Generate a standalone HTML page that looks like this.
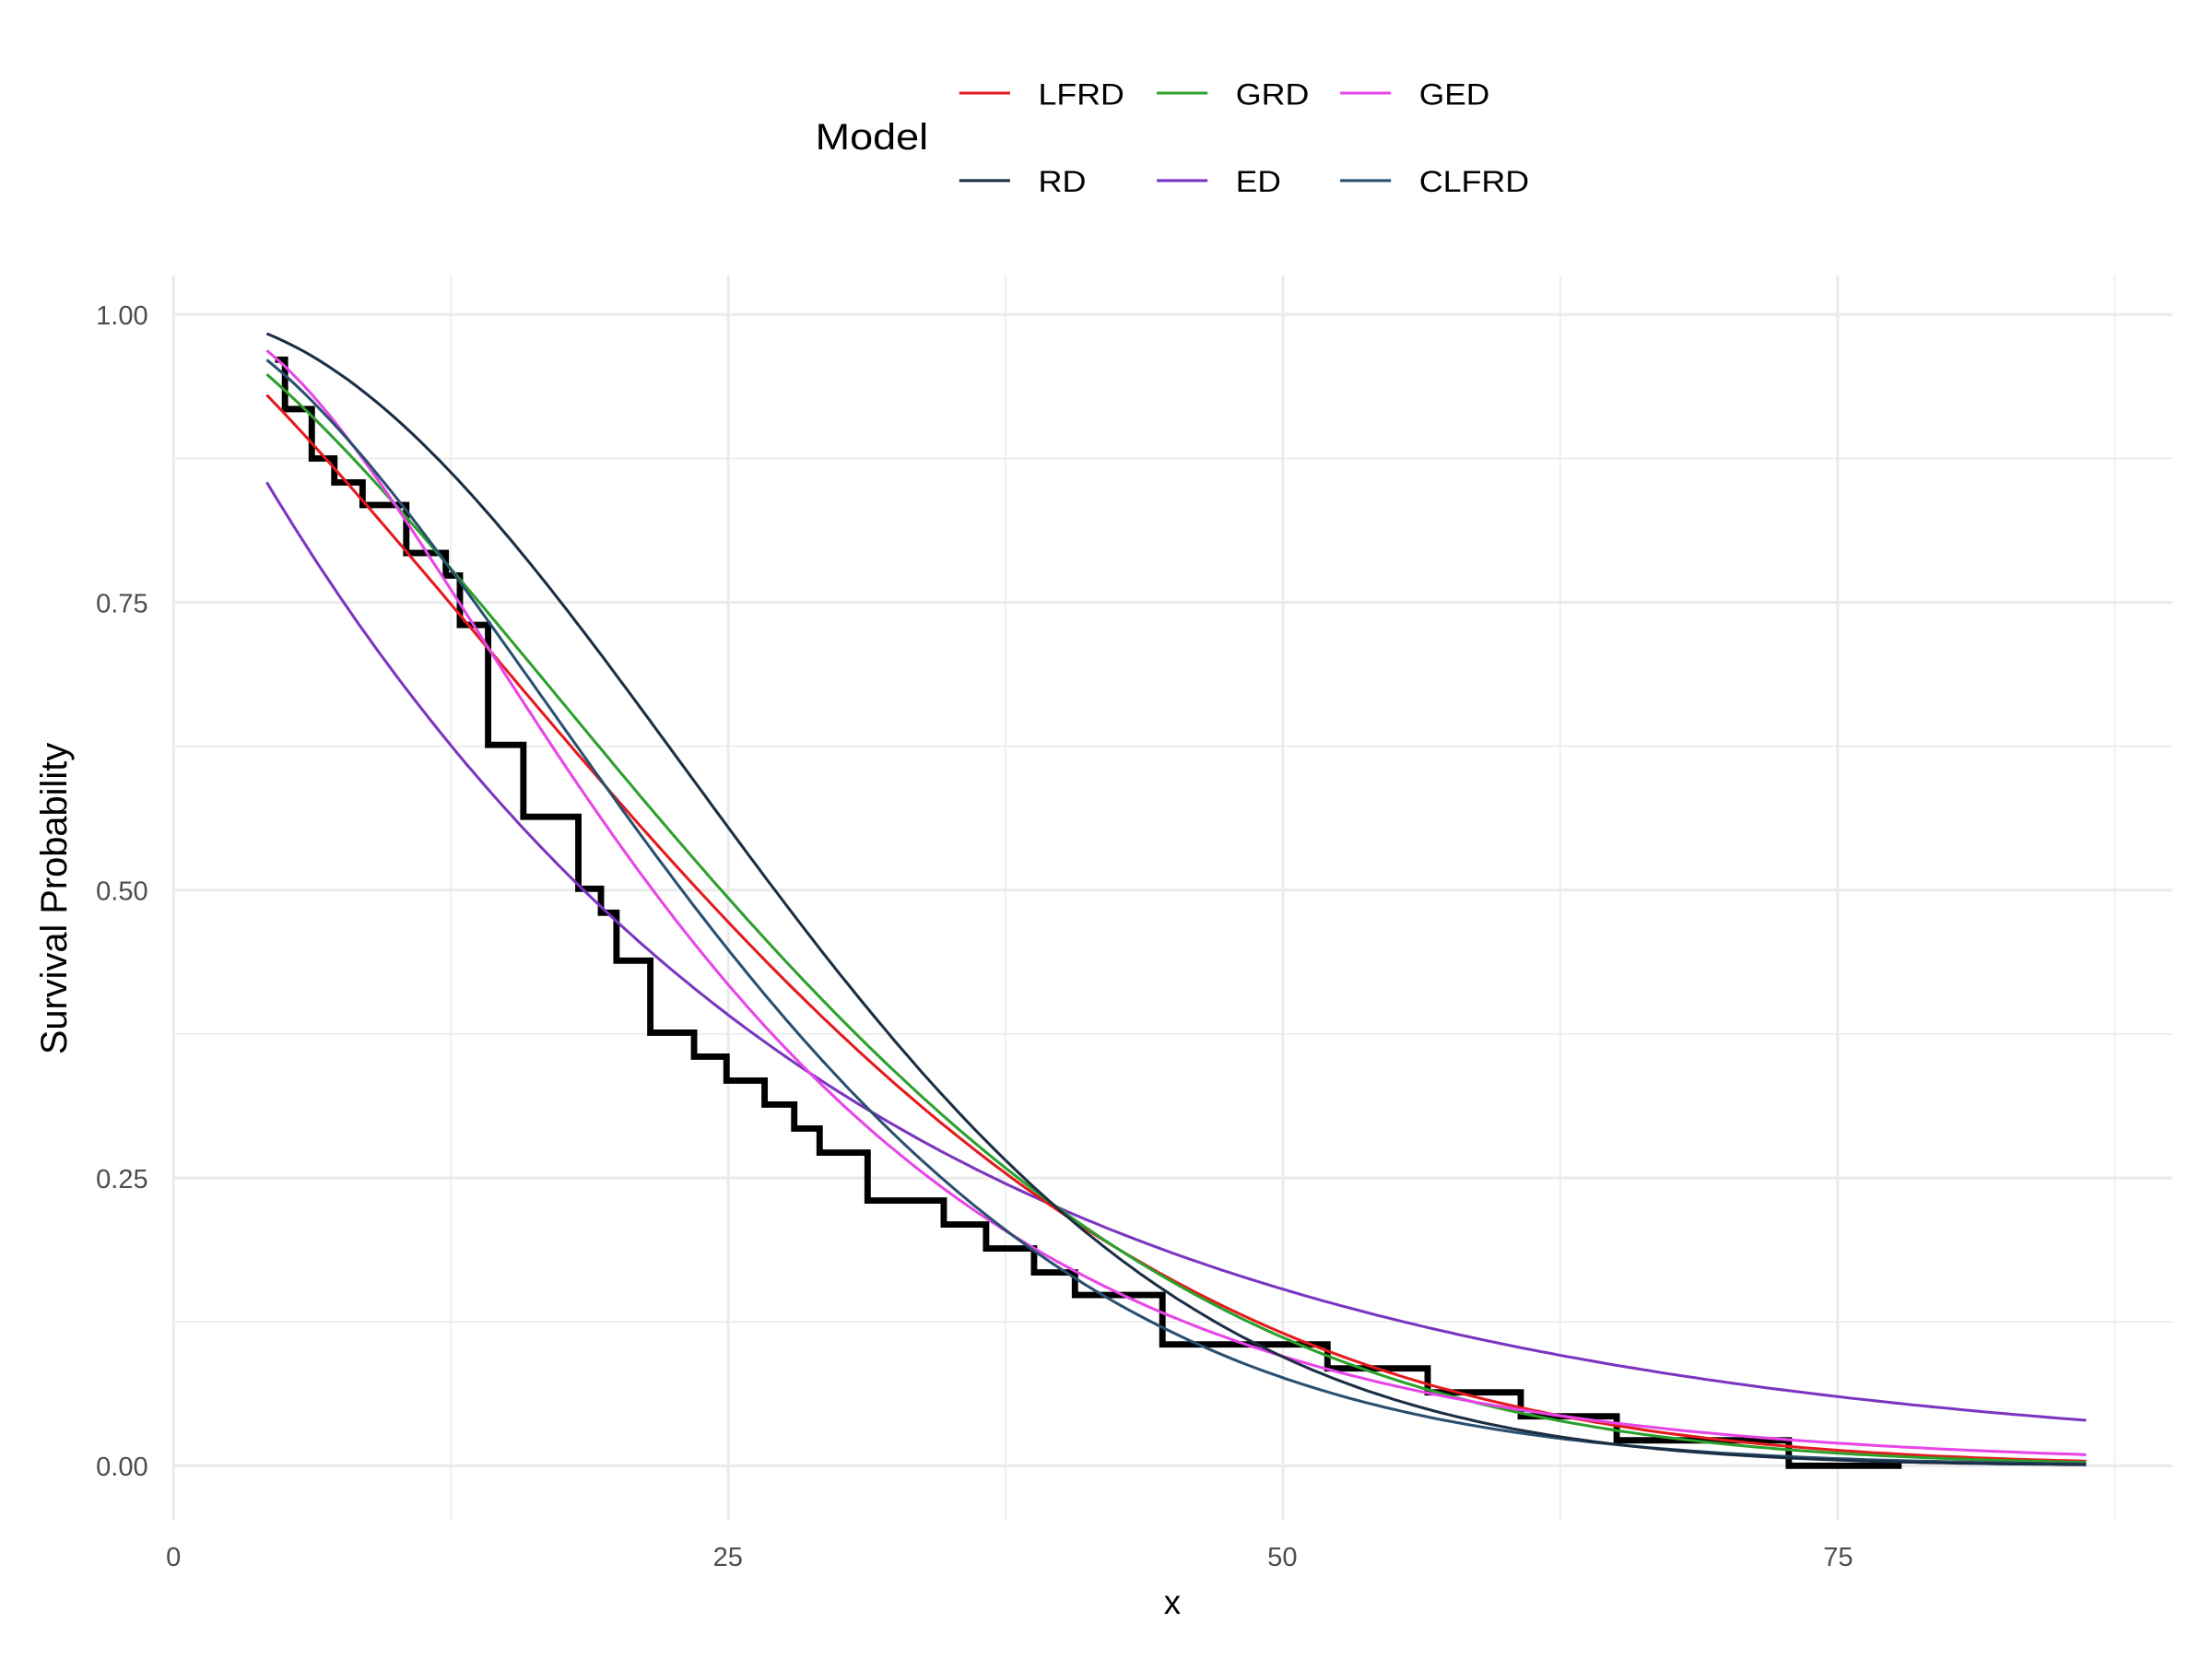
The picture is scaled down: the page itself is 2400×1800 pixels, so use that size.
<!DOCTYPE html>
<html><head><meta charset="utf-8"><style>
html,body{margin:0;padding:0;background:#fff;}
svg{display:block;}
text{font-family:"Liberation Sans",Arial,sans-serif;}
</style></head><body>
<svg id="s" width="2400" height="1800" viewBox="0 0 1568 1176" xmlns="http://www.w3.org/2000/svg">
<rect width="1568" height="1176" fill="#fff"/>
<g stroke="#ebebeb" stroke-width="1">
<line x1="123" x2="1540" y1="325" y2="325"/><line x1="123" x2="1540" y1="529" y2="529"/>
<line x1="123" x2="1540" y1="733" y2="733"/><line x1="123" x2="1540" y1="937" y2="937"/>
<line x1="319.6" x2="319.6" y1="195" y2="1078"/><line x1="712.8" x2="712.8" y1="195" y2="1078"/>
<line x1="1106" x2="1106" y1="195" y2="1078"/><line x1="1499" x2="1499" y1="195" y2="1078"/>
</g>
<g stroke="#ebebeb" stroke-width="2">
<line x1="123" x2="1540" y1="223" y2="223"/><line x1="123" x2="1540" y1="427" y2="427"/>
<line x1="123" x2="1540" y1="631" y2="631"/><line x1="123" x2="1540" y1="835" y2="835"/>
<line x1="123" x2="1540" y1="1039" y2="1039"/>
<line x1="123" x2="123" y1="195" y2="1078"/><line x1="516.2" x2="516.2" y1="195" y2="1078"/>
<line x1="909.4" x2="909.4" y1="195" y2="1078"/><line x1="1302.6" x2="1302.6" y1="195" y2="1078"/>
</g>
<g fill="#4d4d4d" font-size="19" text-anchor="end">
<text x="105" y="230">1.00</text><text x="105" y="434">0.75</text><text x="105" y="638">0.50</text>
<text x="105" y="842">0.25</text><text x="105" y="1046">0.00</text>
</g>
<g fill="#4d4d4d" font-size="19" text-anchor="middle">
<text x="123" y="1110">0</text><text x="516" y="1110">25</text><text x="909" y="1110">50</text><text x="1303" y="1110">75</text>
</g>
<text x="831" y="1144" font-size="24" text-anchor="middle" fill="#000">x</text>
<text transform="translate(47,637) rotate(-90)" font-size="26" text-anchor="middle" fill="#000">Survival Probability</text>
<path fill="none" stroke="#000" stroke-width="4.5" stroke-linejoin="miter" d="M195,255 H202 V290 H221 V325 H237 V342 H257 V358 H288 V392 H316 V408 H326 V443 H346 V528 H371 V579 H410 V630 H426 V647 H437 V681 H461 V732 H492 V749 H515 V766 H542 V783 H563 V800 H581 V817 H615 V851 H669 V868 H699 V885 H733 V902 H762 V918 H824 V953 H941 V970 H1012 V987 H1078 V1004 H1146 V1021 H1268 V1039 H1348"/>
<g id="curves" fill="none" stroke-width="2"></g>
<text x="578" y="106" font-size="26" fill="#000" textLength="80" lengthAdjust="spacingAndGlyphs">Model</text>
<g stroke-width="2">
<line x1="680" x2="716" y1="66" y2="66" stroke="#e41a1c"/><line x1="820" x2="856" y1="66" y2="66" stroke="#2ca02c"/>
<line x1="950" x2="986" y1="66" y2="66" stroke="#e845e8"/>
<line x1="680" x2="716" y1="128" y2="128" stroke="#1a2e44"/><line x1="820" x2="856" y1="128" y2="128" stroke="#7b35c0"/>
<line x1="950" x2="986" y1="128" y2="128" stroke="#2a5070"/>
</g>
<g font-size="21" fill="#000">
<text x="736" y="74" textLength="61" lengthAdjust="spacingAndGlyphs">LFRD</text><text x="876" y="74" textLength="52" lengthAdjust="spacingAndGlyphs">GRD</text><text x="1006" y="74" textLength="50" lengthAdjust="spacingAndGlyphs">GED</text>
<text x="736" y="136" textLength="34" lengthAdjust="spacingAndGlyphs">RD</text><text x="876" y="136" textLength="32" lengthAdjust="spacingAndGlyphs">ED</text><text x="1006" y="136" textLength="78" lengthAdjust="spacingAndGlyphs">CLFRD</text>
</g>
</svg>
<script>
function gr(a,l){return function(x){var t=l*x;return 1-Math.pow(1-Math.exp(-t*t),a);};}
var fns=[
 ["#7b35c0",function(x){return Math.exp(-0.0375*x);}],
 ["#e41a1c",gr(0.6,0.026)],
 ["#2ca02c",gr(0.68,0.0271)],
 ["#e845e8",function(x){return 1-Math.pow(1-Math.exp(-0.064*x),2.4);}],
 ["#2a5070",function(x){return Math.exp(-Math.pow(x/28.5,1.68));}],
 ["#1a2e44",function(x){return Math.exp(-x*x/1060);}]
];
var g=document.getElementById('curves'),ns="http://www.w3.org/2000/svg";
fns.forEach(function(f){var d="";for(var i=0;i<=200;i++){var x=4.2+(86.2-4.2)*i/200;var px=123+x*15.728,py=1039-816*f[1](x);d+=(i?"L":"M")+px.toFixed(1)+","+py.toFixed(1);}
var p=document.createElementNS(ns,"path");p.setAttribute("d",d);p.setAttribute("stroke",f[0]);g.appendChild(p);});
</script>
</body></html>
